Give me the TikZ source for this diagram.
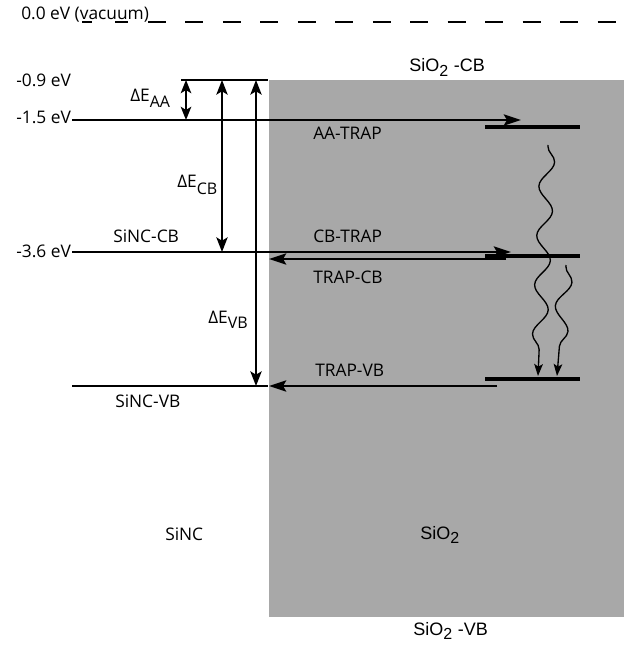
\documentclass[tikz,border=0pt]{standalone}
\usepackage{fontspec}
\setmainfont{Open Sans}
\newfontfamily\helv{Liberation Sans}
\usetikzlibrary{arrows.meta,decorations.pathmorphing}
\definecolor{oxgray}{RGB}{168,168,168}
\begin{document}
\begin{tikzpicture}[x=0.75pt,y=-0.75pt,
  lbl/.style={anchor=base west,inner sep=0pt,font=\fontsize{13}{15}\selectfont},
  hlbl/.style={anchor=base west,inner sep=0pt,font=\helv\fontsize{13.5}{15}\selectfont},
  lvl/.style={line width=1.2pt},
  trap/.style={line width=2.4pt},
  arr/.style={line width=1.2pt,-{Stealth[length=13pt,width=8.5pt,inset=2.5pt]}},
  darr/.style={line width=1.2pt,{Stealth[length=11pt,width=8.5pt,inset=2.5pt]}-{Stealth[length=11pt,width=8.5pt,inset=2.5pt]}},
  sdarr/.style={line width=1.2pt,{Stealth[length=10pt,width=8pt,inset=2.5pt]}-{Stealth[length=10pt,width=8pt,inset=2.5pt]}},
  wave/.style={line width=1pt,-{Stealth[length=9pt,width=6.5pt,inset=2pt]},
    decorate,decoration={snake,segment length=37pt,amplitude=5.5pt,pre length=1pt,post length=9pt}}]
\useasboundingbox (0,0) rectangle (626,645);
% oxide region
\fill[oxgray] (269,80) rectangle (624,617);
% vacuum level
\node[lbl] (vac) at (21,20) {0.0 eV (vacuum)};
\coordinate (vacA) at (148,22);
\coordinate (vacB) at (626,22);
\draw[line width=1.2pt,dash pattern=on 13.5pt off 14.6pt] (vacA) -- (vacB);
\draw[line width=1.2pt] (82,22) -- (92,22);
\draw[line width=1.2pt] (115,22) -- (128,22);
% energy labels
\node[lbl] (e09) at (16,87) {-0.9 eV};
\node[lbl] (e15) at (16,124) {-1.5 eV};
\node[lbl] (e36) at (16,257) {-3.6 eV};
% levels
\coordinate (top0) at (181,80);
\coordinate (top1) at (268,80);
\draw[lvl] (top0) -- (top1);
\coordinate (aaL) at (72,120);
\coordinate (aaR) at (521,120);
\draw[arr] (aaL) -- (aaR);
\coordinate (cbL) at (72,252);
\coordinate (cbR) at (511,252);
\draw[arr] (cbL) -- (cbR);
\coordinate (tcbL) at (269,259);
\coordinate (tcbR) at (506,259);
\draw[arr] (tcbR) -- (tcbL);
\coordinate (vbL) at (72,386);
\coordinate (vbR) at (268,386);
\draw[lvl] (vbL) -- (vbR);
\coordinate (tvbL) at (269,386);
\coordinate (tvbR) at (497,386);
\draw[arr] (tvbR) -- (tvbL);
% trap levels
\coordinate (t1L) at (485,127); \coordinate (t1R) at (580,127);
\coordinate (t2L) at (485,256); \coordinate (t2R) at (580,256);
\coordinate (t3L) at (485,379); \coordinate (t3R) at (580,379);
\draw[trap] (t1L) -- (t1R);
\draw[trap] (t2L) -- (t2R);
\draw[trap] (t3L) -- (t3R);
% energy differences
\coordinate (aaT) at (186,80); \coordinate (aaB) at (186,120);
\coordinate (cbT) at (222,80); \coordinate (cbB) at (222,252);
\coordinate (vbT) at (256,80); \coordinate (vbB) at (256,386);
\draw[sdarr] (aaT) -- (aaB);
\draw[darr] (cbT) -- (cbB);
\draw[darr] (vbT) -- (vbB);
\node[lbl] (dAA) at (130,102) {ΔE\textsubscript{\fontsize{12}{14}\selectfont AA}};
\node[lbl] (dCB) at (177,188) {ΔE\textsubscript{\fontsize{12}{14}\selectfont CB}};
\node[lbl] (dVB) at (208,323) {ΔE\textsubscript{\fontsize{12}{14}\selectfont VB}};
% transition labels
\node[lbl] (aatrap) at (313,140) {AA-TRAP};
\node[lbl] (sincb) at (113,243) {SiNC-CB};
\node[lbl] (cbtrap) at (313,242) {CB-TRAP};
\node[lbl] (trapcb) at (313,283) {TRAP-CB};
\node[lbl] (trapvb) at (315,376) {TRAP-VB};
\node[lbl] (sinvb) at (115,407) {SiNC-VB};
\node[lbl] (sinc) at (165,540) {SiNC};
% oxide labels
\node[hlbl] (oxcb) at (409,72) {SiO\textsubscript{\fontsize{12}{14}\selectfont 2} -CB};
\node[hlbl] (ox) at (420,539) {SiO\textsubscript{\fontsize{12}{14}\selectfont 2}};
\node[hlbl] (oxvb) at (413,635) {SiO\textsubscript{\fontsize{12}{14}\selectfont 2} -VB};
% relaxation waves
\coordinate (w1s) at (548,145); \coordinate (w1e) at (538,376);
\coordinate (w2s) at (566,265); \coordinate (w2e) at (557,376);
\draw[wave] (w1s) -- (w1e);
\draw[wave] (w2s) -- (w2e);
\end{tikzpicture}
\end{document}
